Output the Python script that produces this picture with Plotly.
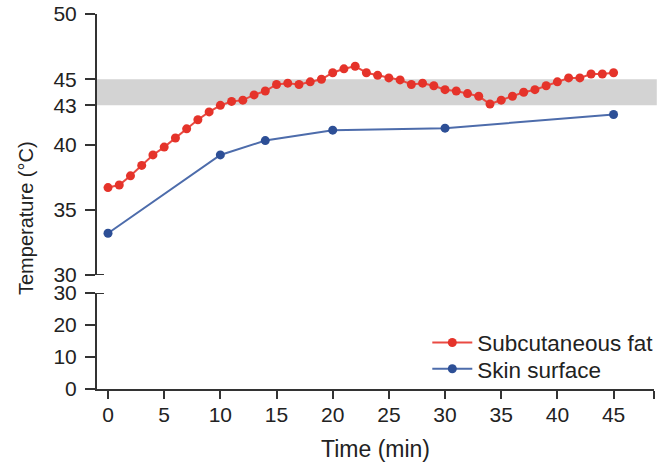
import plotly.graph_objects as go

# ---- data ----
fat_time = list(range(0, 46))
fat_temp = [36.7, 36.9, 37.6, 38.4, 39.2, 39.8, 40.5, 41.2, 41.9, 42.5,
            43.0, 43.3, 43.4, 43.8, 44.1, 44.6, 44.7, 44.6, 44.8, 45.0,
            45.5, 45.8, 46.0, 45.5, 45.3, 45.1, 44.95, 44.6, 44.7, 44.5,
            44.2, 44.1, 43.9, 43.7, 43.1, 43.4, 43.7, 44.0, 44.2, 44.5,
            44.8, 45.1, 45.1, 45.4, 45.4, 45.5]
skin_time = [0, 10, 14, 20, 30, 45]
skin_temp = [33.2, 39.2, 40.3, 41.1, 41.25, 42.3]

x_ticks = [0, 5, 10, 15, 20, 25, 30, 35, 40, 45]
top_y_ticks = [30, 35, 40, 43, 45, 50]
bottom_y_ticks = [0, 10, 20, 30]
band_low, band_high = 43, 45

RED = "#e5332a"
BLUE = "#2d4f96"
BLUE_LINE = "#4d6cab"
AX = "#333333"
FONT = "Liberation Sans, Arial, sans-serif"
FS = 21

fig = go.Figure()
fig.add_trace(go.Scatter(x=fat_time, y=fat_temp, mode="lines+markers",
                         name="Subcutaneous fat", yaxis="y", legend="legend",
                         line=dict(color="#ea4a42", width=2),
                         marker=dict(color=RED, size=9)))
fig.add_trace(go.Scatter(x=skin_time, y=skin_temp, mode="lines+markers",
                         name="Skin surface", yaxis="y", legend="legend2",
                         line=dict(color=BLUE_LINE, width=2),
                         marker=dict(color=BLUE, size=9)))

xr = [-0.98, 48.6]
leg_common = dict(x=0.593, xanchor="left", yanchor="middle",
                  bgcolor="rgba(0,0,0,0)", font=dict(size=22.5), itemwidth=40)
fig.update_layout(
    width=666, height=469,
    margin=dict(l=97, r=12, t=14, b=80, autoexpand=False),
    paper_bgcolor="white", plot_bgcolor="white",
    font=dict(family=FONT, size=FS, color="#222222"),
    showlegend=True,
    legend=dict(y=0.123, **leg_common),
    legend2=dict(y=0.053, **leg_common),
    xaxis=dict(range=xr, anchor="y2", showgrid=False, zeroline=False,
               showline=True, linecolor=AX, linewidth=2, automargin=False,
               tickvals=x_ticks + [xr[1]], ticktext=[str(v) for v in x_ticks] + [""],
               ticks="outside", ticklen=8, tickwidth=2, tickcolor=AX,
               ticklabelstandoff=-2,
               title=dict(text="Time (min)", standoff=16, font=dict(size=23))),
    yaxis=dict(domain=[0.304, 1.0], range=[30, 50], showgrid=False, zeroline=False,
               showline=True, linecolor=AX, linewidth=2, automargin=False,
               tickvals=top_y_ticks, ticks="outside", ticklen=10, tickwidth=2,
               tickcolor=AX, ticklabelstandoff=4, ticklabeloverflow="allow"),
    yaxis2=dict(domain=[0.0, 0.256], range=[0, 30], showgrid=False, zeroline=False,
                showline=True, linecolor=AX, linewidth=2, automargin=False,
                tickvals=bottom_y_ticks, ticks="outside", ticklen=10, tickwidth=2,
                tickcolor=AX, ticklabelstandoff=4),
)

# threshold band
fig.add_shape(type="rect", xref="paper", yref="y", x0=0, x1=1.005,
              y0=band_low, y1=band_high, fillcolor="#d3d3d3",
              line=dict(width=0), layer="below")
# axis-break caps (inner half of tick)
for yref in ("y", "y2"):
    fig.add_shape(type="line", xref="x", yref=yref, x0=xr[0], x1=xr[0] + 0.62,
                  y0=30, y1=30, line=dict(color=AX, width=2))

fig.add_annotation(text="Temperature (°C)", textangle=-90, xref="paper", yref="paper",
                   x=(26 - 97) / 557, y=0.456, xanchor="center", yanchor="middle",
                   showarrow=False, font=dict(size=20))

# remove the browser's default 8px body margin so the figure sits at the page origin
fig.write_html("out.html", config={"displayModeBar": False},
               post_script="document.body.style.margin='0px';")
